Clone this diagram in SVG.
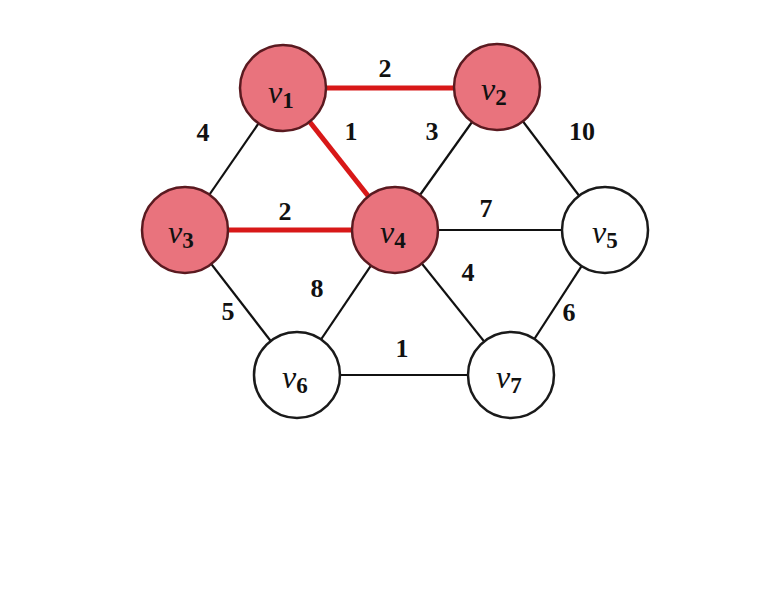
<svg xmlns="http://www.w3.org/2000/svg" width="759" height="598" viewBox="0 0 759 598">
<style>
.e{stroke:#111;stroke-width:2.2;fill:none}
.r{stroke:#d81818;stroke-width:5;fill:none}
.n{stroke:#1a1a1a;stroke-width:2.5;fill:#fff}
.h{fill:#e9737d;stroke:#5a1a20;stroke-width:2.5}
.t{font-family:"Liberation Serif",serif;font-style:italic;font-size:32px;fill:#111}
.s{font-family:"Liberation Serif",serif;font-style:normal;font-weight:bold;font-size:23px}
.w{font-family:"Liberation Serif",serif;font-weight:bold;font-size:26px;fill:#111;text-anchor:middle}
</style>
<rect width="759" height="598" fill="#fff"/>
<g id="edges">
<line class="e" x1="185" y1="230" x2="283" y2="88"/>
<line class="e" x1="395" y1="230" x2="497" y2="87"/>
<line class="e" x1="497" y1="87" x2="605" y2="230"/>
<line class="e" x1="395" y1="230" x2="605" y2="230"/>
<line class="e" x1="185" y1="230" x2="297" y2="375"/>
<line class="e" x1="395" y1="230" x2="297" y2="375"/>
<line class="e" x1="395" y1="230" x2="511" y2="375"/>
<line class="e" x1="605" y1="230" x2="511" y2="375"/>
<line class="e" x1="297" y1="375" x2="511" y2="375"/>
<line class="r" x1="283" y1="88" x2="497" y2="88"/>
<line class="r" x1="283" y1="88" x2="395" y2="230"/>
<line class="r" x1="185" y1="230" x2="395" y2="230"/>
</g>
<g id="labels">
<text class="w" x="385" y="77">2</text>
<text class="w" x="203" y="141">4</text>
<text class="w" x="351" y="140">1</text>
<text class="w" x="432" y="140">3</text>
<text class="w" x="582" y="140">10</text>
<text class="w" x="285" y="220">2</text>
<text class="w" x="486" y="217">7</text>
<text class="w" x="228" y="320">5</text>
<text class="w" x="317" y="297">8</text>
<text class="w" x="468" y="281">4</text>
<text class="w" x="569" y="321">6</text>
<text class="w" x="402" y="357">1</text>
</g>
<g id="v1"><circle class="h" cx="283" cy="88" r="43"/><text class="t" x="268" y="103">v<tspan class="s" dy="5">1</tspan></text></g>
<g id="v2"><circle class="h" cx="497" cy="87" r="43"/><text class="t" x="481" y="100">v<tspan class="s" dy="5">2</tspan></text></g>
<g id="v3"><circle class="h" cx="185" cy="230" r="43"/><text class="t" x="168" y="243">v<tspan class="s" dy="5">3</tspan></text></g>
<g id="v4"><circle class="h" cx="395" cy="230" r="43"/><text class="t" x="380" y="243">v<tspan class="s" dy="5">4</tspan></text></g>
<g id="v5"><circle class="n" cx="605" cy="230" r="43"/><text class="t" x="592" y="243">v<tspan class="s" dy="5">5</tspan></text></g>
<g id="v6"><circle class="n" cx="297" cy="375" r="43"/><text class="t" x="282" y="388">v<tspan class="s" dy="5">6</tspan></text></g>
<g id="v7"><circle class="n" cx="511" cy="375" r="43"/><text class="t" x="496" y="388">v<tspan class="s" dy="5">7</tspan></text></g>
</svg>
